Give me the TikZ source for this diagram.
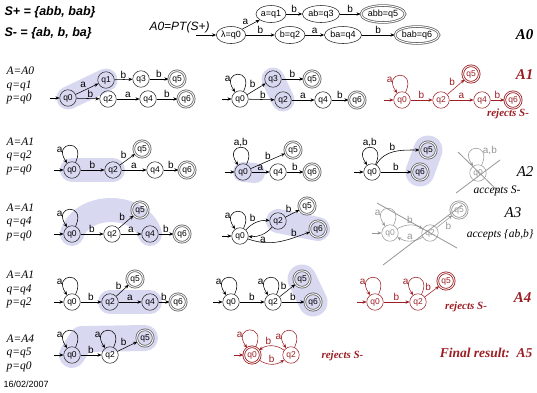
\documentclass[tikz,border=0pt]{standalone}
\usepackage{fontspec}
\setmainfont{Liberation Serif}
\setsansfont{Liberation Sans}
\usetikzlibrary{arrows.meta,shapes.geometric,backgrounds}
\definecolor{dred}{RGB}{155,30,35}
\definecolor{hlc}{RGB}{216,216,241}
\definecolor{crs}{RGB}{150,150,150}
\begin{document}
\begin{tikzpicture}[x=1pt,y=-1pt,
  st/.style={circle, draw=black!85, line width=0.55pt, inner sep=0pt, minimum size=16.5pt, font=\fontsize{8.5}{9}\sffamily},
  acc/.style={st, double=white, double distance=0.9pt, line width=0.8pt, draw=black!60},
  el/.style={ellipse, draw=black!85, line width=0.55pt, inner xsep=0.5pt, inner ysep=1.5pt, minimum height=17pt, font=\fontsize{9}{9}\sffamily},
  elacc/.style={el, double=white, double distance=0.9pt, line width=0.8pt, draw=black!60},
  ed/.style={-{Stealth[length=4pt,width=3.4pt]}, line width=0.55pt},
  lp/.style={font=\fontsize{10}{10}\sffamily, inner sep=0.8pt},
  lpp/.style={out=65, in=125, looseness=8, min distance=12pt},
  rowl/.style={anchor=west, align=left, font=\fontsize{11.5}{13.5}\selectfont\itshape},
  big/.style={font=\fontsize{15}{16}\selectfont\bfseries\itshape},
  note/.style={font=\fontsize{11}{12}\selectfont\bfseries\itshape},
  inote/.style={font=\fontsize{11.5}{12}\selectfont\itshape},
  hl/.style={draw=hlc, line cap=round, line join=round},
  crossx/.style={draw=crs, line width=0.8pt},
  redset/.style={st/.append style={draw=dred, text=dred}, acc/.append style={draw=dred},
     ed/.append style={draw=dred}, lp/.append style={text=dred}},
  grayset/.style={st/.append style={draw=crs, text=crs}, acc/.append style={draw=crs},
     ed/.append style={draw=crs}, lp/.append style={text=crs}}
]
\useasboundingbox (0,0) rectangle (537,392);

% ---------- top ----------
\node[font=\fontsize{12.5}{13}\sffamily\bfseries\itshape, anchor=west] (sp) at (1,12) {S+ = \{abb, bab\}};
\node[font=\fontsize{12.5}{13}\sffamily\bfseries\itshape, anchor=west] (sm) at (1,33) {S- = \{ab, b, ba\}};
\node[font=\fontsize{12}{13}\sffamily\itshape, anchor=west] (pt) at (146,27) {A0=PT(S+)};
\node[el] (z0) at (231,35) {λ=q0};
\node[el] (z1) at (271,14) {a=q1};
\node[el] (z3) at (321,14) {ab=q3};
\node[elacc] (z5) at (383,14) {abb=q5};
\node[el] (z2) at (290,35) {b=q2};
\node[el] (z4) at (343,35) {ba=q4};
\node[elacc] (z6) at (417,35) {bab=q6};
\coordinate (zi) at (196,35);
\draw[ed] (zi) -- (z0);
\draw[ed] (z0) -- node[lp, above left, pos=0.4]{a} (z1);
\draw[ed] (z0) -- node[lp, above]{b} (z2);
\draw[ed] (z1) -- node[lp, above]{b} (z3);
\draw[ed] (z3) -- node[lp, above]{b} (z5);
\draw[ed] (z2) -- node[lp, above]{a} (z4);
\draw[ed] (z4) -- node[lp, above]{b} (z6);
\node[big, anchor=east] (t0) at (537,35) {A0};

% ---------- row 1 ----------
\node[rowl] (r1) at (3,85.5) {A=A0\\q=q1\\p=q0};
\node[st] (a0) at (68,98) {q0};
\node[st] (a1) at (106,80) {q1};
\node[st] (a3) at (141,79) {q3};
\node[acc] (a5) at (177,79) {q5};
\node[st] (a2) at (108,99) {q2};
\node[st] (a4) at (148,99) {q4};
\node[acc] (a6) at (186,99) {q6};
\coordinate (ai) at (50,98);
\draw[ed] (ai) -- (a0);
\draw[ed] (a0) -- node[lp, above left]{a} (a1);
\draw[ed] (a0) -- node[lp, above, pos=0.6]{b} (a2);
\draw[ed] (a1) -- node[lp, above]{b} (a3);
\draw[ed] (a3) -- node[lp, above]{b} (a5);
\draw[ed] (a2) -- node[lp, above]{a} (a4);
\draw[ed] (a4) -- node[lp, above]{b} (a6);
\begin{scope}[on background layer]
\draw[hl, line width=23pt] (a0.center) -- (a1.center);
\end{scope}

\node[st] (b0) at (240,99) {q0};
\node[st] (b3) at (273,79) {q3};
\node[acc] (b5) at (312,79) {q5};
\node[st] (b2) at (283,100) {q2};
\node[st] (b4) at (323,100) {q4};
\node[acc] (b6) at (357,100) {q6};
\coordinate (bi) at (222,99);
\draw[ed] (bi) -- (b0);
\draw[ed] (b0) to[lpp] node[lp, left, pos=0.75]{a} (b0);
\draw[ed] (b0) -- node[lp, above left]{b} (b3);
\draw[ed] (b0) -- node[lp, above, pos=0.55]{b} (b2);
\draw[ed] (b3) -- node[lp, above]{b} (b5);
\draw[ed] (b2) -- node[lp, above]{a} (b4);
\draw[ed] (b4) -- node[lp, above]{b} (b6);
\begin{scope}[on background layer]
\draw[hl, line width=23pt] (b3.center) -- (b2.center);
\end{scope}

\begin{scope}[redset]
\node[st] (c0) at (402,100) {q0};
\node[st] (c2) at (441,100) {q2};
\node[acc] (c5) at (471,74) {q5};
\node[st] (c4) at (482,100) {q4};
\node[acc] (c6) at (513,100) {q6};
\coordinate (ci) at (384,100);
\draw[ed] (ci) -- (c0);
\draw[ed] (c0) to[lpp] node[lp, left, pos=0.75]{a} (c0);
\draw[ed] (c0) -- node[lp, above]{b} (c2);
\draw[ed] (c2) -- node[lp, above left]{b} (c5);
\draw[ed] (c2) -- node[lp, above]{a} (c4);
\draw[ed] (c4) -- node[lp, above]{b} (c6);
\end{scope}
\node[big, text=dred, anchor=east] (t1) at (537,75) {A1};
\node[note, text=dred] (n1) at (508,114) {rejects S-};

% ---------- row 2 ----------
\node[rowl] (r2) at (3,156) {A=A1\\q=q2\\p=q0};
\node[st] (d0) at (72,170) {q0};
\node[st] (d2) at (113,170) {q2};
\node[acc] (d5) at (142,149) {q5};
\node[st] (d4) at (155,170) {q4};
\node[acc] (d6) at (187,170) {q6};
\coordinate (di) at (54,170);
\draw[ed] (di) -- (d0);
\draw[ed] (d0) to[lpp] node[lp, left, pos=0.75]{a} (d0);
\draw[ed] (d0) -- node[lp, above]{b} (d2);
\draw[ed] (d2) -- node[lp, above left]{b} (d5);
\draw[ed] (d2) -- node[lp, above]{a} (d4);
\draw[ed] (d4) -- node[lp, above]{b} (d6);
\begin{scope}[on background layer]
\draw[hl, line width=24pt] (d0.center) -- (d2.center);
\end{scope}

\node[st] (e0) at (243,172) {q0};
\node[st] (e4) at (278,172) {q4};
\node[acc] (e5) at (293,150) {q5};
\node[acc] (e6) at (312,172) {q6};
\coordinate (ei) at (225,172);
\draw[ed] (ei) -- (e0);
\draw[ed] (e0) to[lpp, min distance=14pt] node[lp, above]{a,b} (e0);
\draw[ed] (e0) -- node[lp, above]{b} (e5);
\draw[ed] (e0) -- node[lp, above]{a} (e4);
\draw[ed] (e4) -- node[lp, above]{b} (e6);
\begin{scope}[on background layer]
\draw[hl, line width=20pt] (e0.center) -- ++(12,1);
\end{scope}

\node[st] (f0) at (372,172) {q0};
\node[acc] (f5) at (428,150) {q5};
\node[acc] (f6) at (420,172) {q6};
\coordinate (fi) at (354,172);
\draw[ed] (fi) -- (f0);
\draw[ed] (f0) to[lpp, min distance=14pt] node[lp, above]{a,b} (f0);
\draw[ed] (f0) to[out=60, in=180] node[lp, above, pos=0.45]{b} (f5);
\draw[ed] (f0) -- node[lp, above]{b} (f6);
\begin{scope}[on background layer]
\draw[hl, line width=29pt] (f5.center) -- (f6.center);
\end{scope}

\begin{scope}[grayset]
\node[st] (g0) at (478,173) {q0};
\draw[ed] (g0) to[lpp, min distance=14pt] node[lp, right, pos=0.3]{a,b} (g0);
\coordinate (gx1) at (458,152);
\coordinate (gx2) at (500,193);
\coordinate (gx3) at (456,193);
\coordinate (gx4) at (500,160);
\draw[crossx] (gx1) -- (gx2);
\draw[crossx] (gx3) -- (gx4);
\end{scope}
\node[font=\fontsize{15}{16}\selectfont\itshape, anchor=east] (t2) at (537,172) {A2};
\node[inote] (n2) at (497,191) {accepts S-};

% ---------- row 3 ----------
\node[rowl] (r3) at (3,222) {A=A1\\q=q4\\p=q0};
\node[st] (h0) at (72,234) {q0};
\node[st] (h2) at (112,234) {q2};
\node[acc] (h5) at (140,210) {q5};
\node[st] (h4) at (150,234) {q4};
\node[acc] (h6) at (182,234) {q6};
\coordinate (hi) at (54,234);
\draw[ed] (hi) -- (h0);
\draw[ed] (h0) to[lpp] node[lp, left, pos=0.75]{a} (h0);
\draw[ed] (h0) -- node[lp, above]{b} (h2);
\draw[ed] (h2) -- node[lp, above left]{b} (h5);
\draw[ed] (h2) -- node[lp, above]{a} (h4);
\draw[ed] (h4) -- node[lp, above]{b} (h6);
\begin{scope}[on background layer]
\draw[hl, line width=24pt] (h0.center) .. controls +(10,-32) and +(-10,-32) .. (h4.center);
\end{scope}

\node[st] (i0) at (240,236) {q0};
\node[st] (i2) at (278,221) {q2};
\node[acc] (i5) at (307,206) {q5};
\node[acc] (i6) at (318,229) {q6};
\coordinate (ii) at (222,236);
\draw[ed] (ii) -- (i0);
\draw[ed] (i0) to[lpp] node[lp, left, pos=0.75]{a} (i0);
\draw[ed] (i0) to[bend left=25] node[lp, above left]{b} (i2);
\draw[ed] (i2) to[bend left=25] node[lp, below right, pos=0.6]{a} (i0);
\draw[ed] (i2) -- node[lp, above left]{b} (i5);
\draw[ed] (i0) to[out=-20, in=200] node[lp, above, pos=0.75]{b} (i6);
\begin{scope}[on background layer]
\draw[hl, line width=24pt] (i2.center) -- (i6.center);
\end{scope}

\begin{scope}[grayset]
\node[st] (j0) at (390,233) {q0};
\node[st] (j2) at (430,233) {q2};
\node[acc] (j5) at (459,210) {q5};
\coordinate (ji) at (372,233);
\draw[ed] (ji) -- (j0);
\draw[ed] (j0) to[lpp] node[lp, left, pos=0.75]{a} (j0);
\draw[ed] (j0) to[bend left=30] node[lp, above]{b} (j2);
\draw[ed] (j2) to[bend left=30] node[lp, above]{a} (j0);
\draw[ed] (j2) -- node[lp, below right]{b} (j5);
\coordinate (jx1) at (377,203);
\coordinate (jx2) at (457,248);
\coordinate (jx3) at (383,265);
\coordinate (jx4) at (462,205);
\draw[crossx] (jx1) -- (jx2);
\draw[crossx] (jx3) -- (jx4);
\end{scope}
\node[font=\fontsize{15}{16}\selectfont\itshape] (t3) at (513,213) {A3};
\node[inote, anchor=east] (n3) at (537,235) {accepts \{ab,b\}};

% ---------- row 4 ----------
\node[rowl] (r4) at (3,289.5) {A=A1\\q=q4\\p=q2};
\node[st] (k0) at (72,302) {q0};
\node[st] (k2) at (110,302) {q2};
\node[acc] (k5) at (135,279) {q5};
\node[st] (k4) at (150,302) {q4};
\node[acc] (k6) at (178,302) {q6};
\coordinate (ki) at (54,302);
\draw[ed] (ki) -- (k0);
\draw[ed] (k0) to[lpp] node[lp, left, pos=0.75]{a} (k0);
\draw[ed] (k0) -- node[lp, above]{b} (k2);
\draw[ed] (k2) -- node[lp, above left]{b} (k5);
\draw[ed] (k2) -- node[lp, above]{a} (k4);
\draw[ed] (k4) -- node[lp, above]{b} (k6);
\begin{scope}[on background layer]
\draw[hl, line width=24pt] (k2.center) -- (k4.center);
\end{scope}

\node[st] (l0) at (231,302) {q0};
\node[st] (l2) at (273,302) {q2};
\node[acc] (l5) at (302,279) {q5};
\node[acc] (l6) at (313,302) {q6};
\coordinate (li) at (213,302);
\draw[ed] (li) -- (l0);
\draw[ed] (l0) to[lpp] node[lp, left, pos=0.75]{a} (l0);
\draw[ed] (l2) to[lpp] node[lp, left, pos=0.75]{a} (l2);
\draw[ed] (l0) -- node[lp, above]{b} (l2);
\draw[ed] (l2) -- node[lp, above left]{b} (l5);
\draw[ed] (l2) -- node[lp, above]{b} (l6);
\begin{scope}[on background layer]
\draw[hl, line width=29pt] (l5.center) -- (l6.center);
\end{scope}

\begin{scope}[redset]
\node[st] (m0) at (375,302) {q0};
\node[st] (m2) at (418,302) {q2};
\node[acc] (m5) at (446,281) {q5};
\coordinate (mi) at (357,302);
\draw[ed] (mi) -- (m0);
\draw[ed] (m0) to[lpp] node[lp, left, pos=0.75]{a} (m0);
\draw[ed] (m2) to[lpp] node[lp, left, pos=0.75]{a} (m2);
\draw[ed] (m0) -- node[lp, above]{b} (m2);
\draw[ed] (m2) -- node[lp, above left]{b} (m5);
\end{scope}
\node[big, text=dred, anchor=east] (t4) at (535,298) {A4};
\node[note, text=dred] (n4) at (466,307) {rejects S-};

% ---------- row 5 ----------
\node[rowl] (r5) at (3,353) {A=A4\\q=q5\\p=q0};
\node[st] (n0) at (72,355) {q0};
\node[st] (n2) at (110,355) {q2};
\node[acc] (n5) at (145,338) {q5};
\coordinate (ni) at (54,355);
\draw[ed] (ni) -- (n0);
\draw[ed] (n0) to[lpp] node[lp, left, pos=0.75]{a} (n0);
\draw[ed] (n2) to[lpp] node[lp, left, pos=0.75]{a} (n2);
\draw[ed] (n0) -- node[lp, above]{b} (n2);
\draw[ed] (n2) -- node[lp, above left]{b} (n5);
\begin{scope}[on background layer]
\draw[hl, line width=26pt] (n0.center) -- ++(10,-16) -- (n5.center);
\end{scope}

\begin{scope}[redset]
\node[acc] (o0) at (252,355) {q0};
\node[st] (o2) at (291,355) {q2};
\coordinate (oi) at (234,355);
\draw[ed] (oi) -- (o0);
\draw[ed] (o0) to[lpp] node[lp, left, pos=0.75]{a} (o0);
\draw[ed] (o2) to[lpp] node[lp, left, pos=0.8]{a} (o2);
\draw[ed] (o2) to[bend right=35] node[lp, above, pos=0.62]{b} (o0);
\draw[ed] (o0) to[bend right=35] node[lp, above]{b} (o2);
\end{scope}
\node[note, text=dred, anchor=west] (n5t) at (318,356) {rejects S-};
\node[font=\fontsize{13.5}{15}\selectfont\bfseries\itshape, text=dred, anchor=east] (fr) at (536,353) {Final result:\ \ A5};
\node[font=\fontsize{9}{10}\sffamily, anchor=west] (dt) at (0,384) {16/02/2007};
\end{tikzpicture}
\end{document}
